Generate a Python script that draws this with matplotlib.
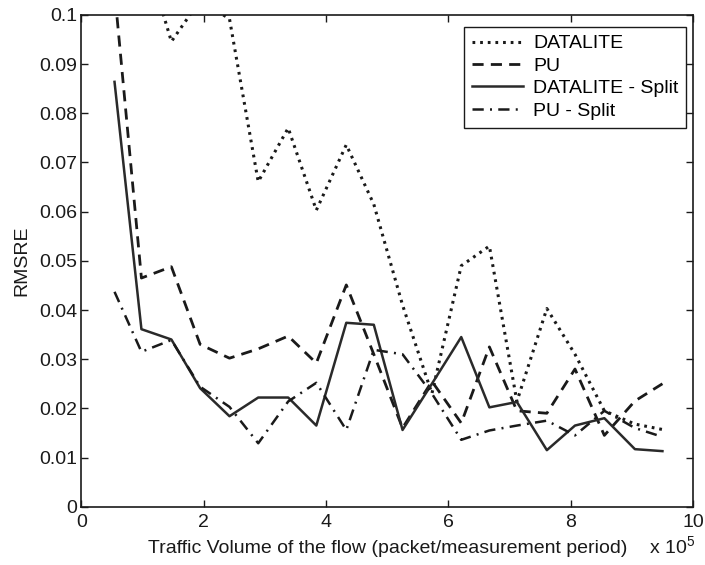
import numpy as np
import matplotlib
matplotlib.use("Agg")
import matplotlib.pyplot as plt
from matplotlib.ticker import FixedLocator, FuncFormatter

plt.rcParams['font.family'] = ['Liberation Sans', 'DejaVu Sans']
plt.rcParams['mathtext.fontset'] = 'custom'
plt.rcParams['mathtext.rm'] = 'Liberation Sans'

# traffic volume (x 10^5 packets per measurement period)
volume = [0.54, 0.98, 1.47, 1.94, 2.42, 2.89, 3.38, 3.84, 4.33, 4.78,
          5.25, 5.73, 6.21, 6.67, 7.12, 7.61, 8.07, 8.55, 9.05, 9.5]

datalite = [0.130, 0.115, 0.0946, 0.103, 0.0992, 0.0661, 0.077, 0.0603, 0.0736, 0.0615,
            0.041, 0.023, 0.049, 0.053, 0.0214, 0.0403, 0.031, 0.0195, 0.0168, 0.0157]
pu = [0.105, 0.0465, 0.0488, 0.033, 0.0302, 0.0321, 0.0347, 0.0292, 0.0451, 0.031,
      0.016, 0.0255, 0.017, 0.0325, 0.0195, 0.019, 0.028, 0.0145, 0.0215, 0.025]
datalite_split = [0.0864, 0.0361, 0.034, 0.0241, 0.0184, 0.0222, 0.0222, 0.0165, 0.0374, 0.037,
                  0.0156, 0.025, 0.0345, 0.0202, 0.0213, 0.0115, 0.0165, 0.018, 0.0117, 0.0113]
pu_split = [0.0437, 0.0315, 0.0339, 0.0244, 0.0203, 0.0129, 0.0214, 0.0252, 0.0156, 0.0319,
            0.031, 0.023, 0.0136, 0.0155, 0.0165, 0.0175, 0.0145, 0.0195, 0.016, 0.0142]

labels = ['DATALITE', 'PU', 'DATALITE - Split', 'PU - Split']

fig = plt.figure(figsize=(7.05, 5.65), dpi=100)
ax = fig.add_axes([0.1156, 0.1032, 0.8674, 0.8703])

ink = '#1a1a1a'
ax.plot(volume, datalite, color=ink, lw=2.2, linestyle=(0, (0.9, 1.6)), label=labels[0])
ax.plot(volume, pu, color=ink, lw=2.0, linestyle=(0, (4, 2.6)), label=labels[1])
ax.plot(volume, datalite_split, color='#2a2a2a', lw=1.8, linestyle='-', label=labels[2])
ax.plot(volume, pu_split, color=ink, lw=1.8, linestyle=(0, (4.5, 2.5, 0.8, 2.5)), label=labels[3])

ax.set_xlim(0, 10)
ax.set_ylim(0, 0.1)
ax.xaxis.set_major_locator(FixedLocator([0, 2, 4, 6, 8, 10]))
ax.yaxis.set_major_locator(FixedLocator(np.arange(0, 0.1001, 0.01)))
ax.yaxis.set_major_formatter(FuncFormatter(lambda v, p: '0' if v == 0 else ('%g' % round(v, 2))))
ax.tick_params(direction='in', length=5, width=1, top=True, right=True,
               labelsize=14, colors=ink, pad=3)
ax.tick_params(axis='x', pad=5)
for s in ax.spines.values():
    s.set_linewidth(1.2)
    s.set_color(ink)

ax.set_xlabel('Traffic Volume of the flow (packet/measurement period)', fontsize=14,
              labelpad=7, color=ink)
ax.set_ylabel('RMSRE', fontsize=14, labelpad=6, color=ink)
fig.text(0.921, 0.012, r'x 10$^{\mathregular{5}}$', fontsize=14, color=ink, va='bottom')

leg = ax.legend(loc='upper left', bbox_to_anchor=(0.6255, 0.9756), fontsize=14,
                handlelength=2.65, handletextpad=0.5, borderpad=0.4, labelspacing=0.25,
                fancybox=False, framealpha=1, edgecolor=ink, borderaxespad=0)
leg.get_frame().set_linewidth(1.0)

fig.savefig('out.png', dpi=100)
